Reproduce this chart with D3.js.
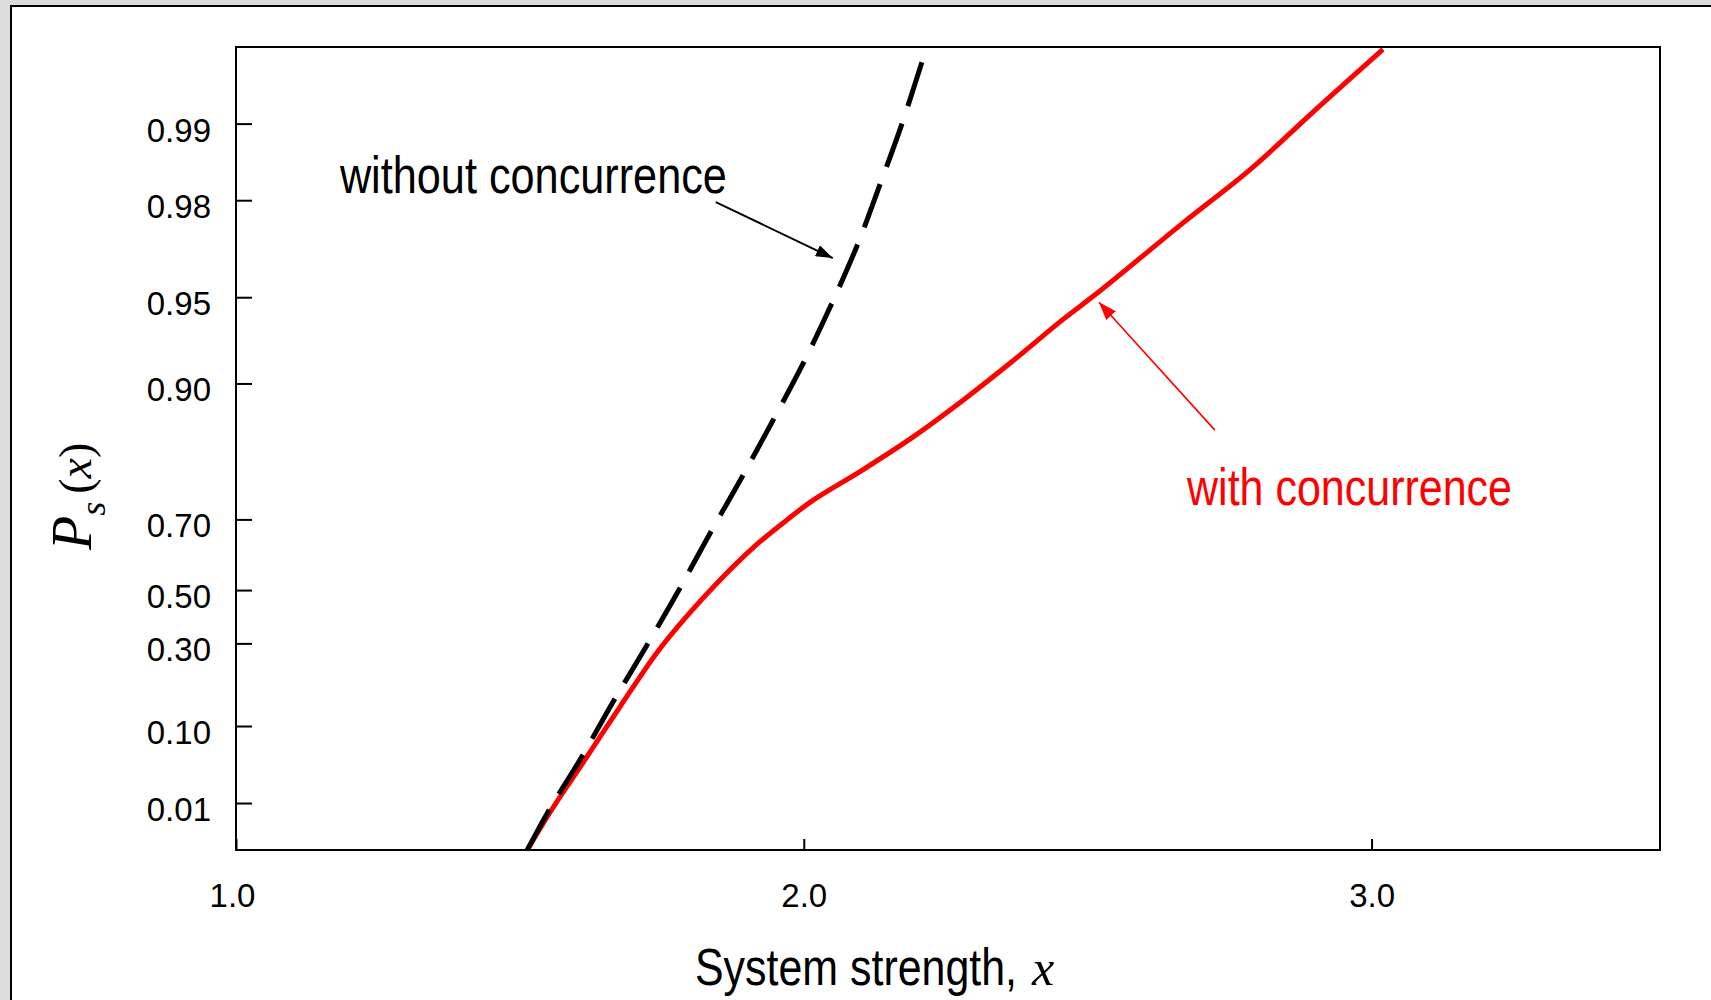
<!DOCTYPE html>
<html>
<head>
<meta charset="utf-8">
<script src="https://cdn.jsdelivr.net/npm/d3@7/dist/d3.min.js"></script>
<style>
    body { margin: 0; background: #dcdcdc; }
    svg { display: block; }
</style>
</head>
<body>
<script>
// ---- data ----
var xTicks = [1.0, 2.0, 3.0];
var yTicks = [0.01, 0.10, 0.30, 0.50, 0.70, 0.90, 0.95, 0.98, 0.99];

// without concurrence (dashed black)
var withoutX = [1.513, 1.549, 1.609, 1.664, 1.724, 1.780, 1.835, 1.891, 1.944, 1.998, 2.046, 2.094, 2.134, 2.173, 2.208];
var withoutP = [0.000, 0.008, 0.064, 0.158, 0.296, 0.500, 0.661, 0.762, 0.843, 0.911, 0.944, 0.966, 0.982, 0.990, 0.998];

// with concurrence (red)
var withX = [1.513, 1.553, 1.611, 1.676, 1.741, 1.794, 1.852, 1.910, 1.970, 2.016, 2.104, 2.192, 2.280, 2.368, 2.456, 2.522, 2.668, 2.786, 2.904, 3.020];
var withP = [0.000, 0.008, 0.057, 0.146, 0.277, 0.402, 0.528, 0.619, 0.698, 0.728, 0.773, 0.821, 0.875, 0.913, 0.937, 0.952, 0.973, 0.984, 0.992, 0.9997];

// annotation anchors in data units
var noteWithout = { text: "without concurrence", x: 1.183, p: 0.981, tailX: 1.845, tailP: 0.9794, tipX: 2.051, tipP: 0.9621 };
var noteWith = { text: "with concurrence", x: 2.675, p: 0.721, tailX: 2.724, tailP: 0.8313, tipX: 2.520, tipP: 0.9471 };

window.onload = function() {
    var svgWidth = 1711, svgHeight = 1000;
    var margin = { top: 47, right: 51, bottom: 150, left: 236 };
    var width = svgWidth - margin.left - margin.right;
    var height = svgHeight - margin.top - margin.bottom;

    var svg = d3.select("body").append("svg")
        .attr("width", svgWidth)
        .attr("height", svgHeight);

    // grey page + white panel
    svg.append("rect").attr("width", svgWidth).attr("height", svgHeight).attr("fill", "#dcdcdc");
    svg.append("rect")
        .attr("x", 11).attr("y", 6)
        .attr("width", svgWidth + 20).attr("height", svgHeight + 20)
        .attr("fill", "#fff").attr("stroke", "#000").attr("stroke-width", 2);

    var defs = svg.append("defs");
    function arrowHead(id, color, len, wid) {
        defs.append("marker")
            .attr("id", id)
            .attr("viewBox", "0 0 " + len + " " + wid)
            .attr("refX", len).attr("refY", wid / 2)
            .attr("markerWidth", len).attr("markerHeight", wid)
            .attr("markerUnits", "userSpaceOnUse")
            .attr("orient", "auto")
            .append("path")
            .attr("d", "M0,0L" + len + "," + (wid / 2) + "L0," + wid + "Z")
            .attr("fill", color);
    }
    arrowHead("headBlack", "#000", 17, 12);
    arrowHead("headRed", "#ff0000", 18, 13);

    //scales -- x linear, y is a stretched probability scale
    var xscale = d3.scaleLinear().domain([1.0, 3.508]).range([0, width]);
    var pBreaks = [0, 0.01, 0.10, 0.30, 0.50, 0.70, 0.90, 0.95, 0.98, 0.99, 1.0];
    var pFrac = [0, 0.0585, 0.1544, 0.2573, 0.3237, 0.4117, 0.5810, 0.6884, 0.8092, 0.9046, 1];
    var yscale = d3.scaleLinear()
        .domain(pBreaks)
        .range(pFrac.map(function(f) { return height - f * height; }));

    var g = svg.append("g")
        .attr("transform", "translate(" + margin.left + "," + margin.top + ")");

    var sans = "'Liberation Sans', Arial, sans-serif";
    var serif = "'Liberation Serif', 'Times New Roman', serif";

    // y axis
    var yAxis = g.append("g")
        .call(d3.axisLeft(yscale)
            .tickValues(yTicks)
            .tickFormat(d3.format(".2f"))
            .tickSizeInner(-16).tickSizeOuter(0).tickPadding(25));
    yAxis.select(".domain").remove();
    yAxis.selectAll("line").attr("stroke", "#000").attr("stroke-width", 2);
    yAxis.selectAll("text")
        .attr("font-family", sans).attr("font-size", 33).attr("fill", "#000")
        .attr("dy", "0.53em");

    // x axis
    var xAxis = g.append("g")
        .attr("transform", "translate(0," + height + ")")
        .call(d3.axisBottom(xscale)
            .tickValues(xTicks)
            .tickFormat(d3.format(".1f"))
            .tickSizeInner(-11).tickSizeOuter(0).tickPadding(34));
    xAxis.select(".domain").remove();
    xAxis.selectAll("line").attr("stroke", "#000").attr("stroke-width", 2);
    xAxis.selectAll("text")
        .attr("font-family", sans).attr("font-size", 33).attr("fill", "#000")
        .attr("dx", function(d, i) { return i === 0 ? -4 : 0; });

    // frame
    g.append("rect")
        .attr("width", width).attr("height", height)
        .attr("fill", "none").attr("stroke", "#000").attr("stroke-width", 2);

    var line = d3.line()
        .x(function(d) { return xscale(d[0]); })
        .y(function(d) { return yscale(d[1]); })
        .curve(d3.curveCatmullRom.alpha(0.5));

    var withoutData = withoutX.map(function(x, i) { return [x, withoutP[i]]; });
    var withData = withX.map(function(x, i) { return [x, withP[i]]; });

    g.append("path").datum(withData)
        .attr("fill", "none").attr("stroke", "#ff0000")
        .attr("stroke-width", 5)
        .attr("d", line);

    var dashed = g.append("path").datum(withoutData)
        .attr("fill", "none").attr("stroke", "#000")
        .attr("stroke-width", 5)
        .attr("d", line);
    // stretch the dash pattern a little so both ends finish on a full dash
    var len = dashed.node().getTotalLength();
    var n = Math.round((len - 45) / 63);
    var k = len / (n * 63 + 45);
    dashed.attr("stroke-dasharray", (45 * k) + "," + (18 * k));

    // annotations
    g.append("text")
        .attr("x", xscale(noteWithout.x)).attr("y", yscale(noteWithout.p))
        .attr("font-family", sans).attr("font-size", 52)
        .attr("textLength", 387).attr("lengthAdjust", "spacingAndGlyphs")
        .attr("fill", "#000")
        .text(noteWithout.text);
    g.append("line")
        .attr("x1", xscale(noteWithout.tailX)).attr("y1", yscale(noteWithout.tailP))
        .attr("x2", xscale(noteWithout.tipX)).attr("y2", yscale(noteWithout.tipP))
        .attr("stroke", "#000").attr("stroke-width", 2)
        .attr("marker-end", "url(#headBlack)");

    g.append("text")
        .attr("x", xscale(noteWith.x)).attr("y", yscale(noteWith.p))
        .attr("font-family", sans).attr("font-size", 52)
        .attr("textLength", 325).attr("lengthAdjust", "spacingAndGlyphs")
        .attr("fill", "#ff0000")
        .text(noteWith.text);
    g.append("line")
        .attr("x1", xscale(noteWith.tailX)).attr("y1", yscale(noteWith.tailP))
        .attr("x2", xscale(noteWith.tipX)).attr("y2", yscale(noteWith.tipP))
        .attr("stroke", "#ff0000").attr("stroke-width", 1.6)
        .attr("marker-end", "url(#headRed)");

    // x axis title
    svg.append("text")
        .attr("x", 695).attr("y", 985)
        .attr("font-family", sans).attr("font-size", 52)
        .attr("textLength", 322).attr("lengthAdjust", "spacingAndGlyphs")
        .attr("fill", "#000")
        .text("System strength,");
    svg.append("text")
        .attr("x", 1032).attr("y", 985)
        .attr("font-family", serif).attr("font-style", "italic").attr("font-size", 50)
        .attr("fill", "#000")
        .text("x");

    // y axis title  P_s (x)
    var yt = svg.append("text")
        .attr("transform", "translate(91,550) rotate(-90)")
        .attr("font-family", serif).attr("fill", "#000");
    yt.append("tspan").attr("font-style", "italic").attr("font-size", 56).text("P");
    yt.append("tspan").attr("font-style", "italic").attr("font-size", 36).attr("dy", 14).text("s");
    yt.append("tspan").attr("font-size", 46).attr("dx", 8).attr("dy", -14).text("(");
    yt.append("tspan").attr("font-style", "italic").attr("font-size", 46).text("x");
    yt.append("tspan").attr("font-size", 46).text(")");
};
</script>
</body>
</html>
